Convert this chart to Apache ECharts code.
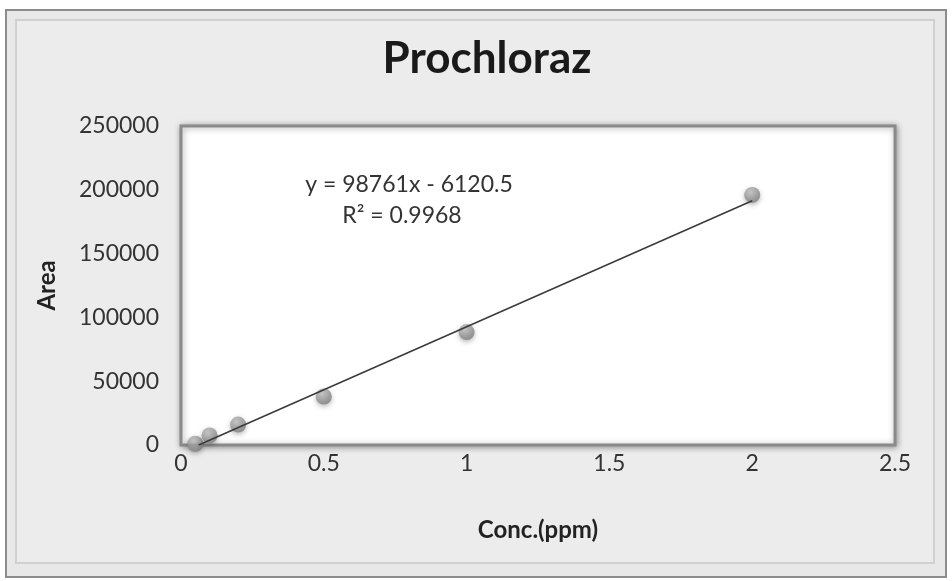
<!DOCTYPE html>
<html>
<head>
<meta charset="utf-8">
<script src="https://cdn.jsdelivr.net/npm/echarts@6/dist/echarts.min.js"></script>
<style>
  html, body { margin: 0; padding: 0; background: #fff; }
  #chart { width: 952px; height: 581px; }
</style>
</head>
<body>
<div id="chart"></div>
<script>
// data
const conc = [0.05, 0.1, 0.2, 0.5, 1, 2]
const area = [1000, 7500, 16000, 38000, 88500, 196000]
// trendline end points (y = 98761x - 6120.5), clipped at y = 0
const trendX = [0.062, 2]
const trendY = [0, 191402]
const xTicks = [0, 0.5, 1, 1.5, 2, 2.5]
const yTicks = [0, 50000, 100000, 150000, 200000, 250000]

const chart = echarts.init(document.getElementById('chart'))
const font = 'Lato, "Open Sans", sans-serif'

const option = {
  backgroundColor: '#ffffff',
  graphic: [
    // outer frame
    {
      type: 'rect', z: -10,
      shape: { x: 6, y: 10, width: 940, height: 567 },
      style: { fill: '#e8e8e8', stroke: '#8c8c8c', lineWidth: 2 }
    },
    {
      type: 'rect', z: -9,
      shape: { x: 16, y: 20, width: 918, height: 543 },
      style: { fill: '#ececec', stroke: '#d0d0d0', lineWidth: 2 }
    },
    {
      type: 'text', x: 487, y: 37,
      style: { text: 'Prochloraz', font: 'bold 44px ' + font, fill: '#1a1a1a', align: 'center' }
    },
    {
      type: 'text', x: 409, y: 185,
      style: { text: 'y = 98761x - 6120.5', font: '23px ' + font, fill: '#333', align: 'center', verticalAlign: 'middle' }
    },
    {
      type: 'text', x: 402, y: 216,
      style: { text: 'R² = 0.9968', font: '23px ' + font, fill: '#333', align: 'center', verticalAlign: 'middle' }
    }
  ],
  grid: {
    left: 181, right: 57, top: 126, bottom: 136,
    show: true,
    backgroundColor: '#ffffff',
    borderColor: '#8a8a8a',
    borderWidth: 3,
    shadowColor: 'rgba(0,0,0,0.35)',
    shadowBlur: 6,
    shadowOffsetX: 1,
    shadowOffsetY: 1
  },
  xAxis: {
    type: 'value',
    min: 0, max: 2.5, interval: 0.5,
    name: 'Conc.(ppm)',
    nameLocation: 'middle',
    nameGap: 73,
    nameTextStyle: { fontFamily: font, fontWeight: 'bold', fontSize: 24, color: '#222' },
    axisLine: { show: false },
    axisTick: { show: false },
    splitLine: { show: false },
    axisLabel: {
      fontFamily: font, fontSize: 23, color: '#333', margin: 7,
      formatter: v => xTicks.includes(v) ? String(v) : ''
    }
  },
  yAxis: {
    type: 'value',
    min: 0, max: 250000, interval: 50000,
    name: 'Area',
    nameLocation: 'middle',
    nameGap: 122,
    nameRotate: 90,
    nameTextStyle: { fontFamily: font, fontWeight: 'bold', fontSize: 24, color: '#222' },
    axisLine: { show: false },
    axisTick: { show: false },
    splitLine: { show: false },
    axisLabel: {
      fontFamily: font, fontSize: 23, color: '#333', margin: 22,
      formatter: v => yTicks.includes(v) ? String(v) : ''
    }
  },
  series: [
    {
      type: 'line',
      data: trendX.map((x, i) => [x, trendY[i]]),
      symbol: 'none',
      lineStyle: { color: '#3a3a3a', width: 1.5 },
      silent: true,
      z: 3
    },
    {
      type: 'scatter',
      data: conc.map((x, i) => [x, area[i]]),
      symbolSize: 16,
      itemStyle: {
        color: {
          type: 'radial', x: 0.4, y: 0.35, r: 0.7,
          colorStops: [
            { offset: 0, color: '#c4c4c4' },
            { offset: 1, color: '#7a7a7a' }
          ]
        },
        shadowColor: 'rgba(0,0,0,0.35)',
        shadowBlur: 5,
        shadowOffsetY: 2
      },
      z: 2
    }
  ]
}

chart.setOption(option)
</script>
</body>
</html>
